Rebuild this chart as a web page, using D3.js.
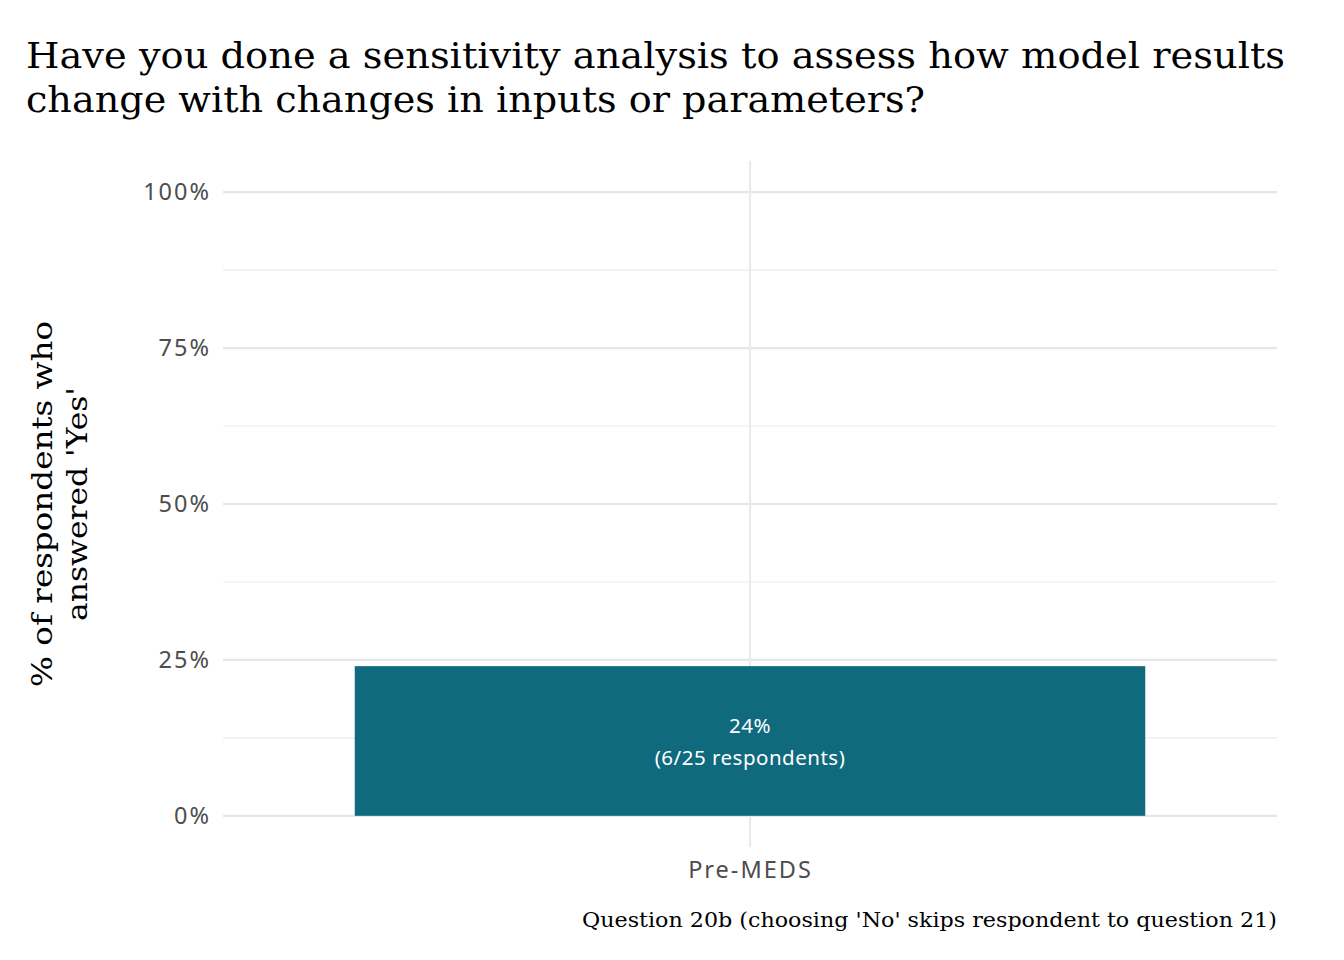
<!DOCTYPE html>
<html>
<head>
<meta charset="utf-8">
<script src="https://cdn.jsdelivr.net/npm/d3@7"></script>
<style>
  body { margin: 0; background: #fff; }
  svg { display: block; }
</style>
</head>
<body>
<div id="chart"></div>
<script>
const FRAME_WIDTH = 1344;
const FRAME_HEIGHT = 960;
const MARGINS = {left: 223, right: 67, top: 161, bottom: 113};
const VIS_WIDTH = FRAME_WIDTH - MARGINS.left - MARGINS.right;
const VIS_HEIGHT = FRAME_HEIGHT - MARGINS.top - MARGINS.bottom;

// data
const CATEGORIES = ["Pre-MEDS"];
const PCT_YES = [0.24];
const N_YES = [6];
const N_TOTAL = [25];
const Y_TICKS = [0, 0.25, 0.5, 0.75, 1];
const Y_MINOR = [0.125, 0.375, 0.625, 0.875];

const SERIF = "'DejaVu Serif', serif";
const SANS = "'Noto Sans', Lato, sans-serif";

const SVG = d3.select("#chart")
  .append("svg")
    .attr("width", FRAME_WIDTH)
    .attr("height", FRAME_HEIGHT);

// ggplot-like scales: 5% expansion on y, 0.6 units on discrete x
const Y_SCALE = d3.scaleLinear()
  .domain([-0.05, 1.05])
  .range([VIS_HEIGHT, 0]);

const X_SCALE = d3.scaleLinear()
  .domain([0.4, 1.6])
  .range([0, VIS_WIDTH]);

const G = SVG.append("g")
  .attr("transform", "translate(" + MARGINS.left + "," + MARGINS.top + ")");

// minor grid
G.selectAll(".minor")
  .data(Y_MINOR)
  .enter()
  .append("line")
    .attr("x1", 0)
    .attr("x2", VIS_WIDTH)
    .attr("y1", (d) => Y_SCALE(d))
    .attr("y2", (d) => Y_SCALE(d))
    .attr("stroke", "#ebebeb")
    .attr("stroke-width", 1.1);

// major grid
G.selectAll(".major")
  .data(Y_TICKS)
  .enter()
  .append("line")
    .attr("x1", 0)
    .attr("x2", VIS_WIDTH)
    .attr("y1", (d) => Y_SCALE(d))
    .attr("y2", (d) => Y_SCALE(d))
    .attr("stroke", "#e6e6e6")
    .attr("stroke-width", 2.2);

G.selectAll(".vgrid")
  .data(CATEGORIES)
  .enter()
  .append("line")
    .attr("x1", (d, i) => X_SCALE(i + 1))
    .attr("x2", (d, i) => X_SCALE(i + 1))
    .attr("y1", 0)
    .attr("y2", VIS_HEIGHT)
    .attr("stroke", "#ebebeb")
    .attr("stroke-width", 2.2);

// bars
G.selectAll(".bar")
  .data(CATEGORIES)
  .enter()
  .append("rect")
    .attr("x", (d, i) => X_SCALE(i + 1 - 0.45))
    .attr("width", (d, i) => X_SCALE(i + 1 + 0.45) - X_SCALE(i + 1 - 0.45))
    .attr("y", (d, i) => Y_SCALE(PCT_YES[i]))
    .attr("height", (d, i) => Y_SCALE(0) - Y_SCALE(PCT_YES[i]))
    .attr("fill", "#106a7e");

// bar labels
const LABELS = G.selectAll(".lab")
  .data(CATEGORIES)
  .enter()
  .append("text")
    .attr("text-anchor", "middle")
    .attr("fill", "#ffffff")
    .attr("font-family", SANS)
    .attr("font-size", "20.5px")
    .attr("letter-spacing", "0.5px")
    .attr("transform", (d, i) => "translate(" + X_SCALE(i + 1) + "," + Y_SCALE(PCT_YES[i] / 2) + ")");

LABELS.append("tspan")
  .attr("x", 0)
  .attr("y", -8)
  .text((d, i) => Math.round(PCT_YES[i] * 100) + "%");

LABELS.append("tspan")
  .attr("x", 0)
  .attr("y", 24)
  .text((d, i) => "(" + N_YES[i] + "/" + N_TOTAL[i] + " respondents)");

// y axis
const Y_AXIS = G.append("g")
  .call(d3.axisLeft(Y_SCALE).tickValues(Y_TICKS).tickFormat(d3.format(".0%")).tickSize(0).tickPadding(12));
Y_AXIS.select(".domain").remove();
Y_AXIS.selectAll("text")
  .attr("font-family", SANS)
  .attr("font-size", "23.5px")
  .attr("letter-spacing", "2px")
  .attr("fill", "#4d4d4d");

// x axis
const X_AXIS = G.append("g")
  .attr("transform", "translate(0," + VIS_HEIGHT + ")")
  .call(d3.axisBottom(X_SCALE).tickValues(CATEGORIES.map((d, i) => i + 1))
    .tickFormat((d) => CATEGORIES[d - 1]).tickSize(0).tickPadding(14));
X_AXIS.select(".domain").remove();
X_AXIS.selectAll("text")
  .attr("font-family", SANS)
  .attr("font-size", "23.5px")
  .attr("letter-spacing", "2px")
  .attr("fill", "#4d4d4d");

// title, one text per line so each can be fitted to the reference width
const TITLE_LINES = [
  {t: "Have you done a sensitivity analysis to assess how model results", y: 68, w: 1259},
  {t: "change with changes in inputs or parameters?", y: 112, w: 899}
];
SVG.selectAll(".title")
  .data(TITLE_LINES)
  .enter()
  .append("text")
    .attr("font-family", SERIF)
    .attr("font-size", "35px")
    .attr("fill", "#000")
    .attr("x", 26)
    .attr("y", (d) => d.y)
    .attr("textLength", (d) => d.w)
    .attr("lengthAdjust", "spacingAndGlyphs")
    .text((d) => d.t);

// y title
const YT_LINES = [
  {t: "% of respondents who", y: 52, w: 366},
  {t: "answered 'Yes'", y: 87, w: 234}
];
const YT = SVG.append("g")
  .attr("transform", "translate(0," + (MARGINS.top + Y_SCALE(0.5)) + ") rotate(-90)");
YT.selectAll("text")
  .data(YT_LINES)
  .enter()
  .append("text")
    .attr("font-family", SERIF)
    .attr("font-size", "28px")
    .attr("fill", "#000")
    .attr("x", (d) => -d.w / 2)
    .attr("y", (d) => d.y)
    .attr("textLength", (d) => d.w)
    .attr("lengthAdjust", "spacingAndGlyphs")
    .text((d) => d.t);

// caption
SVG.append("text")
  .attr("font-family", SERIF)
  .attr("font-size", "20px")
  .attr("fill", "#000")
  .attr("x", MARGINS.left + VIS_WIDTH - 695)
  .attr("y", 927)
  .attr("textLength", 695)
  .attr("lengthAdjust", "spacingAndGlyphs")
  .text("Question 20b (choosing 'No' skips respondent to question 21)");
</script>
</body>
</html>
